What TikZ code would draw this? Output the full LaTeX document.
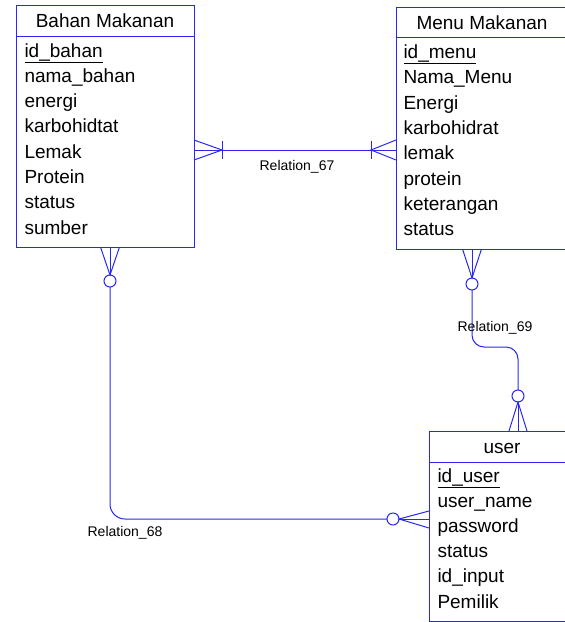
\documentclass[tikz,border=0pt]{standalone}
\usepackage{fontspec}
\setmainfont{Liberation Sans}
\definecolor{erblue}{RGB}{40,40,240}
\begin{document}
\begin{tikzpicture}[x=1pt,y=-1pt,line width=1pt,
  ent/.style={draw=erblue,anchor=north west,inner sep=0pt,outer sep=0pt},
  attr/.style={anchor=base west,inner sep=0pt,font=\fontsize{19}{19}\selectfont},
  ttl/.style={anchor=base,inner sep=0pt,font=\fontsize{19}{19}\selectfont},
  rel/.style={draw=erblue},
  optc/.style={circle,draw=erblue,fill=white,minimum size=12pt,inner sep=0pt,outer sep=0pt},
  rlabel/.style={font=\fontsize{14}{14}\selectfont,inner sep=0pt}]
\useasboundingbox (0,0) rectangle (565,622);
\clip (0,0) rectangle (565,622);
% entities
\node[ent,minimum width=178pt,minimum height=242pt] (bahan) at (16,5) {};
\node[ent,minimum width=172pt,minimum height=242pt] (menu) at (396,7) {};
\node[ent,minimum width=146pt,minimum height=190pt] (user) at (429,431) {};
\draw[erblue] ([yshift=-31pt]bahan.north west) -- ([yshift=-31pt]bahan.north east);
\draw[erblue] ([yshift=-30pt]menu.north west) -- ([yshift=-30pt]menu.north east);
\draw[erblue] ([yshift=-31pt]user.north west) -- ([yshift=-31pt]user.north east);
% titles
\node[ttl] (bahanT) at (105,27) {Bahan Makanan};
\node[ttl] (menuT) at (482,29) {Menu Makanan};
\node[ttl] (userT) at (502,453) {user};
% attributes
\node[attr] (b1) at (24,57) {\underline{id\_bahan}};
\foreach \t [count=\i from 2] in {nama\_bahan,energi,karbohidtat,Lemak,Protein,status,sumber}
  \node[attr] (b\i) at ({24},{57+25.3*(\i-1)}) {\t};
\node[attr] (m1) at (403,58.5) {\underline{id\_menu}};
\foreach \t [count=\i from 2] in {Nama\_Menu,Energi,karbohidrat,lemak,protein,keterangan,status}
  \node[attr] (m\i) at ({403},{58.5+25.3*(\i-1)}) {\t};
\node[attr] (u1) at (437,482) {\underline{id\_user}};
\foreach \t [count=\i from 2] in {user\_name,password,status,id\_input,Pemilik}
  \node[attr] (u\i) at ({437},{482+25.2*(\i-1)}) {\t};
% Relation_67
\coordinate (b67) at ([yshift=-145pt]bahan.north east);
\coordinate (m67) at ([yshift=-143pt]menu.north west);
\draw[rel] (b67) -- (m67);
\draw[rel] ([yshift=10pt]b67) -- ++(28,10) -- ([yshift=-10pt]b67);
\draw[rel] ([xshift=28pt,yshift=9pt]b67) -- ([xshift=28pt,yshift=-9pt]b67);
\draw[rel] ([yshift=10pt]m67) -- ++(-25,10) -- ([yshift=-10pt]m67);
\draw[rel] ([xshift=-25pt,yshift=9pt]m67) -- ([xshift=-25pt,yshift=-9pt]m67);
\node[rlabel] (l67) at (297,167) {Relation\_67};
% Relation_69
\coordinate (m69) at ([xshift=76pt]menu.south west);
\node[optc] (c69a) at ([yshift=-35pt]m69) {};
\coordinate (u69) at ([xshift=89pt]user.north west);
\node[optc] (c69b) at ([yshift=35pt]u69) {};
\draw[rel] ([xshift=-9.5pt]m69) -- (c69a.north) -- ([xshift=9.5pt]m69);
\draw[rel] (m69) -- (c69a.north);
\draw[rel] ([xshift=-9pt]u69) -- (c69b.south) -- ([xshift=9pt]u69);
\draw[rel] (u69) -- (c69b.south);
\draw[rel,rounded corners=12pt] (c69a.south) -- (c69a.south |- 0,347) -- (c69b.north |- 0,347) -- (c69b.north);
\node[rlabel] (l69) at (495,328) {Relation\_69};
% Relation_68
\coordinate (b68) at ([xshift=94pt]bahan.south west);
\node[optc] (c68a) at ([yshift=-34pt]b68) {};
\coordinate (u68) at ([yshift=-88pt]user.north west);
\node[optc] (c68b) at ([xshift=-36pt]u68) {};
\draw[rel] ([xshift=-9.5pt]b68) -- (c68a.north) -- ([xshift=9.5pt]b68);
\draw[rel] (b68) -- (c68a.north);
\draw[rel] ([yshift=8pt]u68) -- (c68b.east) -- ([yshift=-9pt]u68);
\draw[rel] (u68) -- (c68b.east);
\draw[rel,rounded corners=15pt] (c68a.south) -- (c68a.south |- c68b.west) -- (c68b.west);
\node[rlabel] (l68) at (125,533) {Relation\_68};
\end{tikzpicture}
\end{document}
